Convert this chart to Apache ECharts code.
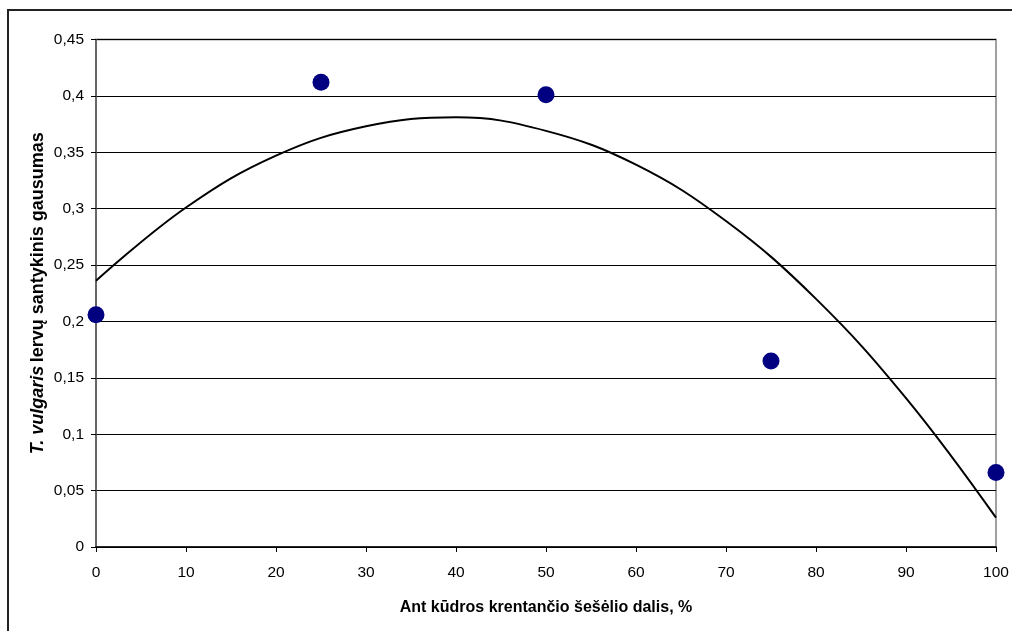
<!DOCTYPE html>
<html>
<head>
<meta charset="utf-8">
<script src="https://cdn.jsdelivr.net/npm/echarts@6/dist/echarts.min.js"></script>
<style>
html,body{margin:0;padding:0;background:#fff;}
#chart{width:1012px;height:631px;}
</style>
</head>
<body>
<div id="chart"></div>
<script>
// Observed points
const shadeX = [0, 25, 50, 75, 100];
const abundance = [0.206, 0.412, 0.401, 0.165, 0.066];
// Trend line
const trendX = [0, 10, 20, 30, 40, 50, 60, 70, 80, 90, 100];
const trendY = [0.236, 0.301, 0.347, 0.373, 0.381, 0.369, 0.339, 0.289, 0.220, 0.132, 0.026];
const yTicks = [0, 0.05, 0.1, 0.15, 0.2, 0.25, 0.3, 0.35, 0.4, 0.45];

const chart = echarts.init(document.getElementById('chart'));
const font = 'Liberation Sans, Arial, sans-serif';
chart.setOption({
  animation: false,
  backgroundColor: '#fff',
  graphic: [{
    type: 'rect',
    shape: {x: 8, y: 10, width: 1100, height: 1100},
    style: {fill: 'none', stroke: '#222', lineWidth: 2},
    silent: true
  }],
  grid: {
    left: 96, right: 16, top: 39.5, bottom: 84,
    show: true, borderColor: '#a0a0a0', borderWidth: 2, backgroundColor: 'transparent'
  },
  xAxis: {
    type: 'value', min: 0, max: 100, interval: 10,
    name: 'Ant kūdros krentančio šešėlio dalis, %',
    nameLocation: 'middle', nameGap: 53,
    nameTextStyle: {fontFamily: font, fontSize: 16, fontWeight: 'bold', color: '#000'},
    axisLine: {show: true, onZero: false, lineStyle: {color: '#000', width: 1.5}},
    axisTick: {show: true, length: 5, lineStyle: {color: '#000'}},
    axisLabel: {fontFamily: font, fontSize: 15.5, color: '#000', margin: 18},
    splitLine: {show: false}
  },
  yAxis: {
    type: 'value', min: 0, max: 0.45, interval: 0.05,
    name: '{i|T. vulgaris} {b|lervų santykinis gausumas}',
    nameLocation: 'middle', nameGap: 49, nameRotate: 90,
    nameMoveOverlap: false,
    nameTextStyle: {
      rich: {
        i: {fontFamily: font, fontSize: 18, fontWeight: 'bold', fontStyle: 'italic', color: '#000'},
        b: {fontFamily: font, fontSize: 18, fontWeight: 'bold', color: '#000'}
      }
    },
    axisLine: {show: true, lineStyle: {color: '#555', width: 1.5}},
    axisTick: {show: true, length: 5, lineStyle: {color: '#000'}},
    axisLabel: {
      fontFamily: font, fontSize: 15.5, color: '#000', margin: 12,
      formatter: v => {
        const t = yTicks.find(k => Math.abs(k - v) < 1e-9);
        const val = t !== undefined ? t : v;
        return String(parseFloat(val.toFixed(2))).replace('.', ',');
      }
    },
    splitLine: {show: true, lineStyle: {color: '#000', width: 1}}
  },
  series: [
    {
      type: 'line',
      data: trendX.map((x, i) => [x, trendY[i]]),
      smooth: 0.4,
      showSymbol: false,
      symbol: 'none',
      lineStyle: {color: '#000', width: 2},
      z: 3
    },
    {
      type: 'scatter',
      data: shadeX.map((x, i) => [x, abundance[i]]),
      symbol: 'circle',
      symbolSize: 17,
      itemStyle: {color: '#000080', opacity: 1},
      clip: false,
      z: 4
    }
  ]
});
</script>
</body>
</html>
